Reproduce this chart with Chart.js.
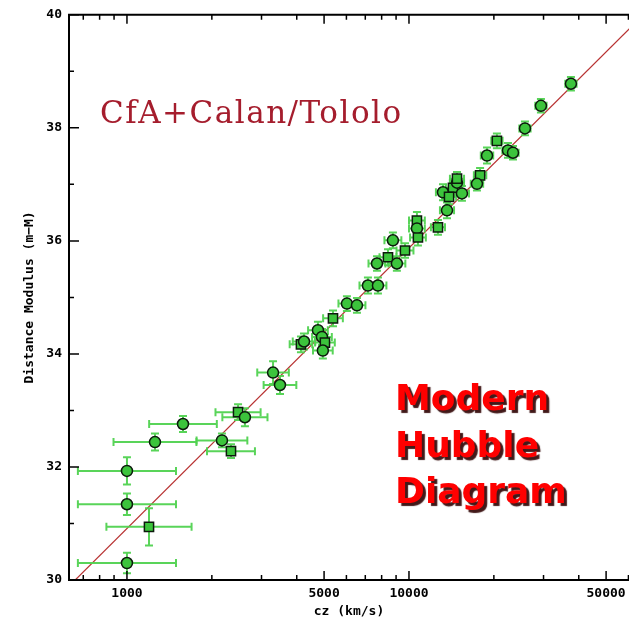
<!DOCTYPE html>
<html>
<head>
<meta charset="utf-8">
<script src="https://cdn.jsdelivr.net/npm/chart.js@4.4.1/dist/chart.umd.min.js"></script>
<style>
html,body{margin:0;padding:0;background:#fff;overflow:hidden;}
#c{display:block;}
</style>
</head>
<body>
<canvas id="c" width="629" height="621"></canvas>
<script>
// ---- data ----
const cz      = [1000,1197,1000,1000,1257,1580,2172,2338,2477,2620,3296,3488,4140,4245,4756,4914,5035,4950,5377,6025,6540,7153,7762,7700,8424,9060,8770,9680,10670,10670,10760,12670,13640,13200,14320,14800,15410,14800,17870,17420,18910,20500,22440,23380,25780,29370,37520,13870];
const mu      = [30.30,30.94,31.34,31.93,32.44,32.76,32.47,32.28,32.97,32.88,33.67,33.45,34.17,34.22,34.42,34.30,34.20,34.06,34.63,34.89,34.86,35.21,35.21,35.60,35.71,35.60,36.01,35.83,36.36,36.22,36.06,36.24,36.54,36.86,36.94,37.03,36.84,37.10,37.16,37.01,37.51,37.77,37.60,37.56,37.99,38.39,38.78,36.78];
const czErrDex= [0.174,0.151,0.174,0.174,0.147,0.12,0.09,0.085,0.08,0.08,0.056,0.058,0.04,0.04,0.035,0.035,0.035,0.035,0.035,0.03,0.03,0.03,0.03,0.03,0.03,0.03,0.03,0.03,0.028,0.028,0.028,0.025,0.025,0.025,0.025,0.025,0.025,0.025,0.022,0.022,0.022,0.02,0.02,0.02,0.02,0.02,0.02,0.025];
const muErr   = [0.18,0.33,0.19,0.24,0.15,0.14,0.12,0.12,0.14,0.16,0.20,0.16,0.14,0.14,0.15,0.14,0.15,0.14,0.14,0.13,0.13,0.14,0.14,0.13,0.14,0.13,0.14,0.13,0.15,0.14,0.14,0.13,0.14,0.14,0.14,0.13,0.13,0.12,0.13,0.12,0.14,0.13,0.13,0.12,0.12,0.12,0.12,0.13];
const sample  = ['C','T','C','C','C','C','C','T','T','C','C','C','T','C','C','C','T','C','T','C','C','C','C','C','T','C','C','T','T','C','T','T','C','C','T','C','C','T','T','C','C','T','C','C','C','C','C','T'];
const fitCz   = [600, 65000];
const fitMu   = [29.81, 39.91];
const xTicks  = [700,800,900,1000,2000,3000,4000,5000,6000,7000,8000,9000,10000,20000,30000,40000,50000,60000];
const xLabels = [1000,5000,10000,50000];
const yTicksMajor = [30,32,34,36,38,40];
const X_MIN = 623, X_MAX = 60280, Y_MIN = 30, Y_MAX = 40;

const tickFont = {family:'DejaVu Sans Mono', weight:'bold', size:13};

const points = cz.map((v,i)=>({x:v, y:mu[i]}));
const fitLine = fitCz.map((v,i)=>({x:v, y:fitMu[i]}));

const errorBars = {
  id:'errorBars',
  beforeDatasetDraw(chart, args){
    if (args.index !== 1) return;
    const {ctx, scales:{x, y}} = chart;
    ctx.save();
    ctx.beginPath();
    const a = chart.chartArea;
    ctx.rect(a.left, a.top, a.right-a.left, a.bottom-a.top);
    ctx.clip();
    ctx.strokeStyle = 'rgba(80,210,80,0.95)';
    ctx.lineWidth = 2;
    const cap = 4;
    cz.forEach((v,i)=>{
      const px = x.getPixelForValue(v), py = y.getPixelForValue(mu[i]);
      const xl = x.getPixelForValue(v/Math.pow(10,czErrDex[i]));
      const xh = x.getPixelForValue(v*Math.pow(10,czErrDex[i]));
      const yl = y.getPixelForValue(mu[i]-muErr[i]);
      const yh = y.getPixelForValue(mu[i]+muErr[i]);
      ctx.beginPath();
      ctx.moveTo(xl,py); ctx.lineTo(xh,py);
      ctx.moveTo(xl,py-cap); ctx.lineTo(xl,py+cap);
      ctx.moveTo(xh,py-cap); ctx.lineTo(xh,py+cap);
      ctx.moveTo(px,yl); ctx.lineTo(px,yh);
      ctx.moveTo(px-cap,yl); ctx.lineTo(px+cap,yl);
      ctx.moveTo(px-cap,yh); ctx.lineTo(px+cap,yh);
      ctx.stroke();
    });
    ctx.restore();
  }
};

const frame = {
  id:'frame',
  afterDraw(chart){
    const {ctx, chartArea:a, scales:{x, y}} = chart;
    ctx.save();
    ctx.strokeStyle = '#000';
    ctx.lineWidth = 2;
    ctx.beginPath();
    ctx.moveTo(a.right+2, a.top); ctx.lineTo(a.left, a.top);
    ctx.lineTo(a.left, a.bottom); ctx.lineTo(a.right+2, a.bottom);
    ctx.stroke();
    ctx.lineWidth = 1.5;
    ctx.beginPath();
    xTicks.forEach(v=>{
      const px = x.getPixelForValue(v);
      const L = xLabels.includes(v) ? 9 : 5;
      ctx.moveTo(px, a.bottom); ctx.lineTo(px, a.bottom-L);
      ctx.moveTo(px, a.top); ctx.lineTo(px, a.top+L);
    });
    for (let v=Y_MIN; v<=Y_MAX; v++){
      const py = y.getPixelForValue(v);
      const L = yTicksMajor.includes(v) ? 10 : 5;
      ctx.moveTo(a.left, py); ctx.lineTo(a.left+L, py);
    }
    ctx.stroke();
    ctx.restore();
  }
};

const annotations = {
  id:'annotations',
  afterDraw(chart){
    const ctx = chart.ctx;
    ctx.save();
    ctx.textBaseline = 'alphabetic';
    ctx.textAlign = 'left';
    ctx.font = '31px "DejaVu Serif"';
    try { ctx.letterSpacing = '1.5px'; } catch(e) {}
    ctx.fillStyle = '#a51d2d';
    ctx.fillText('CfA+Calan/Tololo', 100, 123);
    try { ctx.letterSpacing = '0px'; } catch(e) {}
    ctx.font = 'bold 36px "DejaVu Sans"';
    ctx.shadowColor = 'rgba(45,0,0,0.9)';
    ctx.shadowOffsetX = 3; ctx.shadowOffsetY = 3; ctx.shadowBlur = 1;
    ctx.fillStyle = '#ff0000';
    ctx.fillText('Modern', 395, 410);
    ctx.fillText('Hubble', 395, 457);
    ctx.fillText('Diagram', 395, 503);
    ctx.restore();
  }
};

new Chart(document.getElementById('c'), {
  data:{
    datasets:[
      {type:'line', data:fitLine, borderColor:'#b83232', borderWidth:1.2, pointRadius:0, order:2, tension:0},
      {type:'scatter', data:points, order:1,
       pointStyle: ctx => sample[ctx.dataIndex]==='T' ? 'rect' : 'circle',
       pointRadius: ctx => sample[ctx.dataIndex]==='T' ? 6.5 : 5.5,
       backgroundColor:'#3cc43c', borderColor:'#0c1a0c', borderWidth:1.5}
    ]
  },
  options:{
    responsive:false, animation:false, devicePixelRatio:1,
    layout:{autoPadding:false, padding:{left:0,right:0,top:14,bottom:0}},
    plugins:{legend:{display:false}, tooltip:{enabled:false}},
    scales:{
      x:{type:'logarithmic', min:X_MIN, max:X_MAX,
         afterBuildTicks: s => { s.ticks = xTicks.map(v=>({value:v, major:false})); },
         ticks:{autoSkip:false, maxRotation:0, minRotation:0, padding:6, color:'#000', font:tickFont,
                callback: v => xLabels.includes(v) ? String(v) : ''},
         grid:{display:false, drawTicks:false}, border:{display:false},
         title:{display:true, text:'cz (km/s)', color:'#000', font:{family:'DejaVu Sans Mono', weight:'bold', size:13}, padding:{top:0,bottom:2}},
         afterFit: s => { s.height = 41; s.paddingLeft = 0; s.paddingRight = 0; }},
      y:{min:Y_MIN, max:Y_MAX,
         ticks:{stepSize:1, autoSkip:false, padding:7, color:'#000', font:tickFont,
                callback: v => yTicksMajor.includes(v) ? String(v) : ''},
         grid:{display:false, drawTicks:false}, border:{display:false},
         title:{display:true, text:'Distance Modulus (m\u2212M)', color:'#000', font:{family:'DejaVu Sans Mono', weight:'bold', size:13}, padding:{top:22,bottom:0}},
         afterFit: s => { s.width = 69; }}
    }
  },
  plugins:[errorBars, frame, annotations]
});
</script>
</body>
</html>
